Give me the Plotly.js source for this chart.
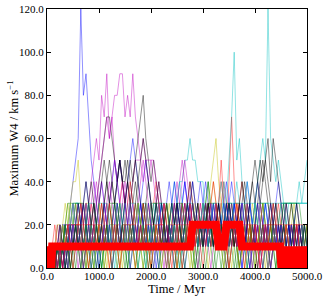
<!DOCTYPE html>
<html><head><meta charset="utf-8">
<script src="https://cdn.plot.ly/plotly-3.0.1.min.js"></script>
<style>html,body{margin:0;padding:0;background:#fff}#chart{width:327px;height:300px}</style>
</head><body><div id="chart"></div>
<script>
// time samples (Myr)
const time = [0,50,100,150,200,250,300,350,400,450,
 500,550,600,650,700,750,800,850,900,950,
 1000,1050,1100,1150,1200,1250,1300,1350,1400,1450,
 1500,1550,1600,1650,1700,1750,1800,1850,1900,1950,
 2000,2050,2100,2150,2200,2250,2300,2350,2400,2450,
 2500,2550,2600,2650,2700,2750,2800,2850,2900,2950,
 3000,3050,3100,3150,3200,3250,3300,3350,3400,3450,
 3500,3550,3600,3650,3700,3750,3800,3850,3900,3950,
 4000,4050,4100,4150,4200,4250,4300,4350,4400,4450,
 4500,4550,4600,4650,4700,4750,4800,4850,4900,4950,5000];

// maximum W4 (km/s) for each run
const runB1 = [0,0,10,0,10,0,10,20,10,30, 40,50,60,120,80,90,70,50,40,30, 20,30,20,10,20,10,20,30,20,10, 20,10,20,30,20,10,20,10,20,10, 10,20,10,0,10,20,10,20,10,0, 10,20,10,20,30,20,10,20,10,20, 10,20,30,20,10,20,10,20,10,20, 30,20,10,20,10,0,10,20,10,20, 10,20,10,20,30,20,10,20,10,20, 10,0,10,20,10,0,10,0,10,0, 10];
const runG1 = [0,10,0,10,0,10,20,10,0,10, 20,10,20,30,20,10,0,10,20,10, 0,10,20,10,20,30,30,20,10,20, 10,0,10,20,10,20,10,0,10,20, 30,30,30,20,10,20,10,20,30,20, 10,0,10,20,10,20,10,0,10,20, 20,30,40,20,10,20,10,0,10,20, 10,20,30,30,30,20,10,20,10,0, 10,20,10,0,10,20,20,20,10,20, 30,30,30,30,30,20,10,0,10,20, 10];
const runR1 = [0,0,10,0,0,10,0,10,20,10, 10,20,10,0,10,20,20,20,10,20, 30,20,10,20,10,0,10,20,10,20, 10,20,30,20,10,20,10,20,10,0, 10,20,10,20,20,20,10,0,10,20, 10,20,30,20,10,20,10,20,10,20, 10,20,30,20,10,20,30,50,30,20, 40,70,40,20,10,20,10,20,10,20, 10,0,10,20,10,20,10,20,10,0, 10,20,10,0,10,20,10,20,10,0, 10];
const runC1 = [0,10,0,0,10,10,0,10,20,10, 20,30,30,30,20,10,20,10,0,10, 20,10,20,30,20,10,0,10,20,10, 20,30,20,10,20,10,20,30,30,20, 10,20,10,20,30,20,10,20,30,40, 30,40,40,50,50,60,50,50,40,40, 40,20,20,20,10,20,10,20,10,20, 10,20,30,20,10,20,10,0,10,20, 30,20,10,20,10,20,30,20,10,20, 10,20,30,30,30,30,30,30,30,30, 30];
const runM1 = [0,0,10,0,10,20,10,0,10,20, 10,20,30,20,10,20,30,40,50,60, 50,80,70,90,60,70,50,40,50,40, 30,40,30,20,10,20,30,20,10,20, 10,20,10,20,10,0,10,20,10,20, 30,40,50,40,30,20,10,20,10,20, 10,20,30,20,10,20,10,20,10,0, 10,20,10,20,30,20,10,20,10,20, 10,0,10,20,10,20,10,20,10,20, 10,20,10,0,10,20,10,0,10,20, 10];
const runY1 = [0,10,0,10,20,10,20,30,20,30, 40,40,50,30,20,30,30,20,10,20, 10,20,10,0,10,20,30,20,10,20, 10,20,10,20,30,20,10,0,10,20, 10,20,30,20,10,20,10,20,10,20, 30,20,10,20,10,20,10,20,30,20, 10,20,30,40,50,60,40,30,20,10, 20,10,20,10,0,10,20,10,20,10, 20,30,20,10,20,10,0,10,20,10, 20,10,0,10,20,10,20,10,0,10, 0];
const runK1 = [0,10,0,10,0,10,20,10,20,10, 20,30,20,10,20,30,20,10,20,30, 40,50,60,70,70,60,50,40,50,40, 40,50,40,30,40,30,20,30,20,10, 20,10,20,30,20,10,20,10,20,10, 0,10,20,10,20,30,20,10,20,10, 20,30,20,10,20,10,20,10,20,30, 20,10,20,10,0,10,20,10,20,10, 20,10,20,30,20,10,20,10,20,10, 0,10,20,10,20,10,0,10,20,10, 10];
const runB2 = [0,0,10,0,10,0,10,20,10,20, 30,20,10,20,30,40,30,20,10,20, 30,40,30,20,10,20,30,40,50,40, 30,40,50,60,50,40,30,20,30,20, 10,20,30,20,10,20,30,40,30,20, 10,20,30,40,30,20,30,20,10,20, 30,40,30,20,10,20,30,20,30,40, 30,20,30,20,10,20,30,40,30,20, 10,20,30,20,10,20,10,20,30,20, 10,0,10,20,10,20,10,0,10,0, 0];
const runG2 = [0,0,0,10,0,10,0,10,0,10, 0,10,20,10,0,10,20,10,0,10, 20,10,0,10,20,20,20,10,0,10, 20,10,20,10,0,10,20,30,20,10, 0,10,20,10,20,10,0,10,20,30, 20,10,0,10,20,10,20,10,0,10, 20,30,20,10,0,10,20,10,20,10, 0,10,20,10,20,30,20,10,0,10, 20,10,20,30,30,30,20,10,0,10, 20,10,0,10,20,10,0,10,20,10, 0];
const runR2 = [0,10,0,10,0,10,0,0,10,20, 20,20,20,10,0,10,20,30,20,10, 20,10,20,30,20,10,20,20,20,30, 20,10,20,10,0,10,20,10,20,30, 20,30,40,30,20,10,20,10,20,10, 0,10,20,30,20,10,20,10,20,30, 20,10,20,10,20,30,20,30,40,30, 20,10,20,30,20,10,20,30,20,10, 20,10,0,10,20,10,20,10,20,30, 20,10,0,10,20,10,20,10,0,10, 20];
const runC2 = [0,0,10,0,10,20,10,0,10,20, 30,30,30,20,10,20,30,20,10,20, 10,0,10,20,10,20,30,20,10,20, 30,20,10,20,10,0,10,20,10,20, 10,20,30,20,10,20,10,20,30,20, 10,20,10,20,30,20,10,20,10,20, 30,20,10,20,10,20,30,20,40,30, 50,70,100,50,60,40,30,20,10,20, 30,20,10,20,30,20,10,20,10,20, 30,30,30,20,10,20,30,30,30,30, 30];
const runM2 = [0,10,0,10,20,10,20,10,0,10, 20,10,20,30,20,10,20,30,40,30, 40,50,60,70,60,70,80,80,90,90, 70,80,70,90,70,60,50,60,50,40, 50,40,30,40,30,20,30,20,10,20, 30,20,10,20,10,20,30,20,10,20, 10,20,10,0,10,20,10,20,10,20, 30,20,10,20,30,20,10,20,10,0, 10,20,10,20,10,0,10,20,10,20, 10,20,30,20,10,0,10,20,10,0, 10];
const runY2 = [0,0,10,10,20,20,10,20,30,20, 30,20,10,20,10,0,10,20,10,20, 30,20,10,20,30,20,10,20,10,0, 10,20,30,20,10,20,10,20,30,20, 10,0,10,20,10,20,30,20,10,20, 10,20,30,20,10,0,10,20,10,20, 30,20,10,20,30,20,10,20,10,20, 10,0,10,20,10,20,30,20,10,20, 30,20,10,0,10,20,10,20,30,20, 10,20,10,20,30,30,30,20,10,0, 10];
const runK2 = [0,10,0,0,10,0,10,20,10,0, 10,20,10,20,30,20,10,20,30,20, 10,20,30,40,30,20,30,40,50,40, 50,40,50,40,50,60,70,80,60,50, 40,50,40,30,20,30,20,10,20,30, 20,10,20,30,20,30,40,30,20,10, 20,30,20,10,20,30,20,10,20,30, 20,30,20,10,20,30,40,30,20,10, 20,30,40,50,40,30,20,30,20,10, 20,30,20,10,20,10,20,10,0,10, 20];
const runB3 = [0,0,0,0,10,0,10,0,10,20, 10,20,30,20,10,20,10,20,10,0, 10,20,10,20,30,40,50,40,30,20, 10,20,30,20,10,20,30,40,50,40, 30,20,10,20,30,20,10,20,30,40, 30,20,30,40,30,20,10,20,30,40, 30,20,10,20,30,20,30,20,10,20, 30,40,30,20,10,20,10,20,30,20, 30,40,30,20,30,20,10,20,30,40, 30,20,10,20,10,20,30,20,10,20, 10];
const runG3 = [10,0,10,0,10,0,10,0,10,20, 10,0,10,20,10,0,10,20,30,20, 10,0,10,20,10,20,10,0,10,20, 20,20,20,10,20,30,20,10,0,10, 20,10,20,10,0,10,20,10,20,10, 20,30,20,10,20,10,0,10,20,10, 20,30,40,30,20,10,20,10,0,10, 20,10,0,10,20,10,20,30,20,10, 0,10,20,10,20,10,0,10,20,10, 20,10,20,10,0,10,20,10,0,10, 0];
const runR3 = [0,0,10,20,10,0,10,20,20,20, 20,20,20,20,10,20,30,20,10,20, 10,20,30,20,10,20,10,20,30,40, 30,20,10,20,30,20,10,20,10,20, 30,20,10,20,10,20,30,20,10,20, 10,20,30,20,30,40,30,20,10,20, 30,20,10,20,30,20,30,40,30,20, 10,20,10,20,30,40,30,20,10,20, 10,20,30,20,10,20,30,20,10,0, 10,20,10,0,10,20,20,20,10,0, 10];
const runC3 = [0,10,0,10,0,10,20,10,20,30, 20,30,30,20,10,20,30,30,30,20, 10,20,30,20,10,20,10,20,30,20, 10,20,30,30,30,20,10,20,10,20, 30,20,10,20,30,20,10,20,10,20, 30,40,30,20,10,20,30,20,10,20, 30,20,10,20,30,20,10,20,30,20, 30,20,30,40,30,20,30,40,30,20, 30,40,50,60,50,120,60,50,40,50, 40,30,20,30,30,30,30,40,30,40, 50];
const runM3 = [0,0,10,0,10,20,10,20,10,20, 30,20,10,20,30,20,10,20,30,40, 30,40,30,20,30,40,50,40,30,40, 30,20,30,40,50,50,50,40,50,50, 50,50,40,30,20,30,20,10,20,30, 40,30,40,50,40,30,20,10,20,30, 20,10,20,30,20,10,20,30,20,10, 20,30,20,10,20,10,20,30,20,10, 20,30,20,10,20,10,0,10,20,10, 20,10,0,10,20,10,20,10,0,10, 0];
const runY3 = [0,10,0,10,0,10,20,10,0,10, 20,30,20,10,20,10,0,10,20,10, 20,10,0,10,20,10,20,30,20,10, 20,10,20,10,0,10,20,10,20,30, 20,10,20,30,20,10,0,10,20,10, 20,30,20,10,20,10,20,30,20,10, 20,10,20,30,40,30,20,10,0,10, 20,10,20,30,20,10,0,10,20,30, 20,10,20,10,0,10,20,10,20,10, 0,10,20,10,20,30,20,10,0,10, 20];
const runK3 = [0,0,10,0,10,0,10,20,10,20, 10,20,30,20,10,20,30,40,30,20, 30,40,50,40,30,40,30,40,50,40, 30,40,30,20,30,40,30,20,30,40, 30,20,30,20,10,20,30,20,10,20, 30,20,10,20,30,20,10,20,30,20, 10,20,30,20,10,20,30,20,10,20, 30,20,10,20,30,40,30,20,30,40, 30,40,50,40,50,60,40,60,50,40, 30,20,10,20,30,20,10,20,10,0, 10];
const runB4 = [0,0,0,10,0,10,20,20,20,20, 20,20,10,20,30,20,10,0,10,20, 10,20,30,20,10,0,10,20,10,20, 30,20,10,20,10,20,30,20,10,20, 10,0,10,20,30,20,10,20,10,20, 30,20,10,0,10,20,30,20,10,20, 10,20,10,20,30,20,10,20,30,20, 10,20,30,20,10,0,10,20,30,20, 10,20,10,0,10,20,30,20,10,20, 10,20,10,20,10,0,10,20,10,0, 10];
const runG4 = [0,10,10,10,0,0,10,20,30,30, 30,30,30,30,30,20,10,20,10,0, 10,20,10,20,30,30,30,30,20,10, 0,10,20,10,20,30,20,10,20,10, 20,30,30,30,30,20,10,0,10,20, 30,30,30,20,10,20,10,20,10,0, 10,20,30,30,30,30,20,10,20,30, 30,30,20,10,0,10,20,10,20,10, 20,30,30,30,20,10,20,10,0,10, 20,30,30,30,30,30,30,30,20,10, 20];
const runR4 = [0,0,0,0,10,10,0,10,20,20, 20,20,20,20,20,20,20,20,20,20, 20,20,10,20,30,20,10,20,10,20, 20,20,20,20,20,10,20,30,20,20, 20,20,20,20,20,20,10,20,20,20, 20,20,20,20,20,20,30,20,20,20, 20,10,20,20,20,20,20,20,20,20, 20,20,20,30,20,20,20,20,20,20, 20,20,10,20,20,20,20,20,20,20, 20,20,20,20,20,20,20,20,20,20, 20];
const runC4 = [0,0,10,0,10,0,10,20,10,20, 30,20,10,0,10,20,30,20,10,20, 30,30,30,30,20,10,20,10,20,30, 20,10,0,10,20,30,20,10,0,10, 20,30,20,30,30,30,30,20,10,20, 10,0,10,20,30,30,30,20,10,20, 30,20,10,20,30,30,30,40,30,20, 30,30,30,30,30,30,30,30,30,30, 30,20,30,30,30,30,30,30,30,30, 30,30,30,30,30,30,30,30,30,30, 30];
const runM4 = [0,10,0,10,0,10,0,10,20,10, 20,10,0,10,20,30,20,10,20,30, 20,10,20,30,40,30,20,10,20,30, 40,30,20,10,20,30,40,50,40,30, 20,10,20,30,20,10,0,10,20,30, 20,10,20,30,20,10,20,10,0,10, 20,30,20,10,20,30,20,10,20,10, 0,10,20,10,20,30,20,10,0,10, 20,10,0,10,20,10,0,10,20,10, 0,10,20,10,0,10,20,10,0,10, 0];
const runY4 = [0,0,10,0,0,10,20,10,20,30, 20,10,20,10,0,10,20,10,0,10, 20,30,20,10,0,10,20,10,0,10, 20,10,0,10,20,30,20,10,20,10, 0,10,20,10,0,10,20,30,20,10, 0,10,20,10,20,10,0,10,20,10, 20,10,0,10,20,10,20,30,20,10, 0,10,20,10,0,10,20,10,20,10, 0,10,20,30,20,10,0,10,20,10, 0,10,20,10,0,10,0,10,20,10, 0];
const runK4 = [0,0,10,0,10,20,10,0,10,0, 10,20,10,20,30,40,30,20,30,20, 10,20,30,40,50,40,30,20,10,20, 30,40,30,40,50,40,50,60,50,40, 30,20,30,40,30,20,10,20,30,20, 30,20,10,20,30,40,30,20,30,20, 10,20,30,20,10,20,30,20,10,20, 30,20,10,20,30,20,10,20,30,40, 50,40,30,40,50,40,30,20,30,20, 10,20,30,20,10,20,30,20,10,20, 10];
const runB5 = [0,10,0,10,0,10,0,10,0,10, 20,10,20,10,0,10,20,10,20,10, 0,10,20,10,20,10,20,30,20,10, 20,10,0,10,20,10,20,10,20,30, 20,10,0,10,20,10,20,10,20,10, 20,30,20,10,20,30,40,30,20,10, 20,10,20,30,20,10,20,10,20,30, 20,10,20,10,20,30,20,10,0,10, 20,30,20,10,20,10,0,10,20,10, 20,10,0,10,20,10,0,10,20,10, 0];
const runG5 = [0,0,10,0,10,0,10,20,10,0, 10,20,10,0,10,20,10,0,10,20, 10,0,10,20,10,0,10,20,30,20, 10,0,10,20,10,0,10,20,10,0, 10,20,10,0,10,20,30,20,10,0, 10,20,10,0,10,20,10,0,10,20, 10,0,10,20,10,0,10,20,10,0, 10,20,10,0,10,20,10,0,10,20, 10,0,10,20,10,0,10,20,10,0, 10,20,10,0,10,20,10,0,10,20, 10];
const runR5 = [0,10,0,10,0,10,0,10,20,10, 0,10,20,30,20,10,0,10,20,10, 20,30,20,10,0,10,20,10,0,10, 20,30,40,30,20,10,20,10,20,10, 0,10,20,10,20,30,20,10,0,10, 20,10,0,10,20,30,20,10,20,10, 0,10,20,30,40,30,20,10,20,10, 0,10,20,10,20,10,0,10,20,10, 20,10,0,10,20,10,20,30,20,10, 0,10,20,10,0,10,20,10,0,10, 0];

// typical value across runs (thick red)
const redTime = [0,10,20,30,40,50,60,70,80,90,100,2750,2800,3250,3300,3400,3450,3700,3750,4480,
 4490,4500,4510,4520,4530,4540,4550,4560,4570,4580,4590,4600,4610,4620,4630,4640,4650,4660,4670,4680,4690,
 4700,4710,4720,4730,4740,4750,4760,4770,4780,4790,4800,4810,4820,4830,4840,4850,4860,4870,4880,4890,
 4900,4910,4920,4930,4940,4950,4960,4970,4980,4990,5000];
const redValue = [0,10,0,10,0,10,0,10,0,10,10,10,20,20,10,10,20,20,10,10,
 0,10,0,10,0,10,0,10,0,10,0,10,0,10,0,10,0,10,0,10,0,
 10,0,10,0,10,0,10,0,10,0,10,0,10,0,10,0,10,0,10,0,
 10,0,10,0,10,0,10,0,10,0,10];

const xTitle = 'Time / Myr';
const yTitle = 'Maximum W4 / km s<sup>−1</sup>';

const runs = [runB1,runG1,runR1,runC1,runM1,runY1,runK1,
              runB2,runG2,runR2,runC2,runM2,runY2,runK2,
              runB3,runG3,runR3,runC3,runM3,runY3,runK3,
              runB4,runG4,runR4,runC4,runM4,runY4,runK4,
              runB5,runG5,runR5];
const palette = ['#0000ff','#008000','#ff0000','#00bfbf','#bf00bf','#bfbf00','#000000'];

const traces = runs.map((v,i)=>({
  x: time, y: v, type:'scatter', mode:'lines',
  line:{color:palette[i%7], width:0.8}, opacity:0.55, hoverinfo:'skip'
}));
traces.push({x:redTime, y:redValue, type:'scatter', mode:'lines',
  line:{color:'#ff0000', width:8}, hoverinfo:'skip'});

const fam = 'Liberation Serif, Times New Roman, DejaVu Serif, serif';
const font = {family:fam, size:11, color:'#000'};
const tfont = {family:fam, size:12.5, color:'#000'};
const layout = {
  width:327, height:300, showlegend:false,
  margin:{l:47, r:20, t:9, b:32},
  paper_bgcolor:'#fff', plot_bgcolor:'#fff',
  font: font,
  xaxis:{range:[0,5000], tickvals:[0,1000,2000,3000,4000,5000], tickformat:'.1f',
    ticks:'inside', ticklen:4, tickcolor:'#000', mirror:'ticks', showline:true, linecolor:'#000', linewidth:1,
    showgrid:false, zeroline:false, tickfont:font, ticklabelstandoff:-2},
  yaxis:{range:[0,120], tickvals:[0,20,40,60,80,100,120], tickformat:'.1f',
    ticks:'inside', ticklen:4, tickcolor:'#000', mirror:'ticks', showline:true, linecolor:'#000', linewidth:1,
    showgrid:false, zeroline:false, tickfont:font},
  annotations:[
    {text:xTitle, xref:'paper', yref:'paper', x:0.5, y:0, xanchor:'center', yanchor:'middle',
     yshift:-21, showarrow:false, font:tfont},
    {text:yTitle, xref:'paper', yref:'paper', x:0, y:0.5, xanchor:'center', yanchor:'middle',
     xshift:-35, textangle:-90, showarrow:false, font:tfont}
  ]
};
Plotly.newPlot('chart', traces, layout, {staticPlot:true, displayModeBar:false});
</script></body></html>
